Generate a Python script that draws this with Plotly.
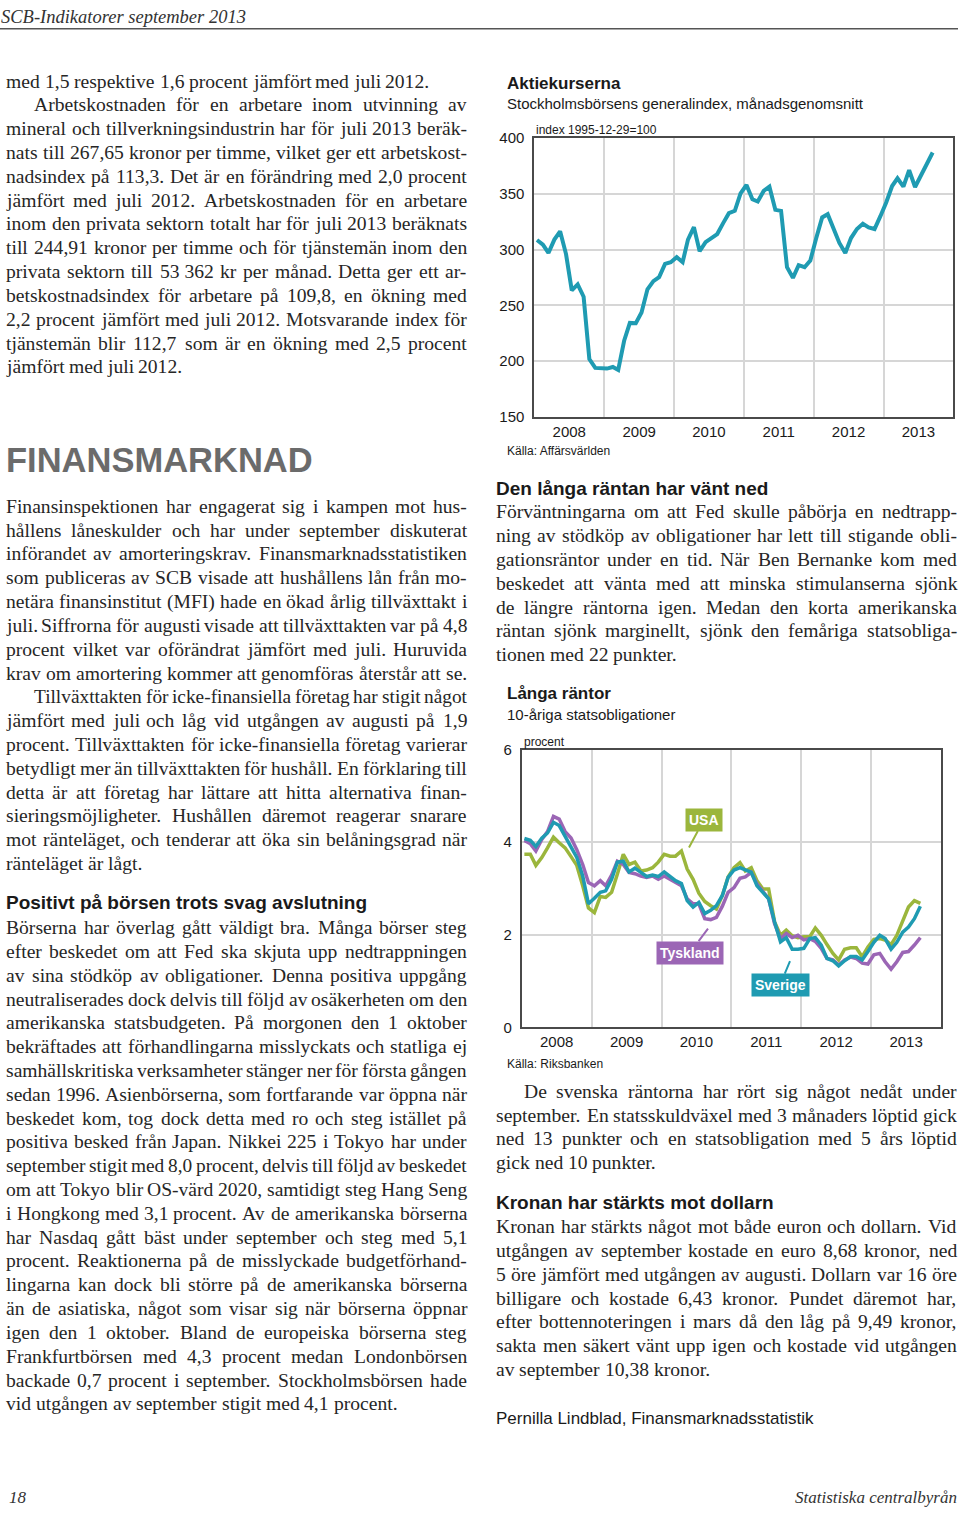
import plotly.graph_objects as go

W, H = 960, 1520

# ------------------------------------------------------------------ data
N_MONTHS = 69  # Jan 2008 .. Sep 2013
MONTHS = [f"{2008 + i // 12}-{i % 12 + 1:02d}-15" for i in range(N_MONTHS)]

AKTIE = [
    308.6, 304.5, 297.0, 309.0, 316.4, 296.0, 263.4, 268.8, 257.7, 201.8, 193.8, 193.5,
    193.2, 194.6, 192.0, 218.2, 234.2, 234.0, 243.5, 264.3, 271.7, 275.3, 287.2, 288.7,
    293.2, 288.7, 309.0, 320.2, 298.5, 306.8, 310.4, 314.0, 323.8, 332.7, 334.8, 350.5,
    358.0, 345.2, 343.2, 352.7, 356.5, 335.7, 334.8, 284.2, 274.7, 286.0, 284.2, 290.2,
    310.4, 328.9, 331.8, 319.3, 306.0, 297.0, 310.4, 318.5, 323.2, 320.0, 318.5, 329.8,
    342.3, 357.1, 364.0, 356.5, 371.4, 356.2, 366.4, 377.4, 387.2,
]

SVERIGE = [
    4.08, 4.04, 3.91, 4.09, 4.20, 4.43, 4.36, 4.13, 3.91, 3.67, 3.27, 2.67,
    2.79, 2.92, 2.95, 3.20, 3.57, 3.59, 3.36, 3.44, 3.35, 3.26, 3.29, 3.26,
    3.36, 3.26, 3.17, 3.11, 2.74, 2.60, 2.70, 2.46, 2.53, 2.63, 2.85, 3.24,
    3.40, 3.45, 3.40, 3.35, 3.06, 2.92, 2.78, 2.28, 1.85, 1.94, 1.69, 1.69,
    1.71, 1.92, 1.94, 1.78, 1.49, 1.44, 1.33, 1.44, 1.53, 1.53, 1.46, 1.64,
    1.84, 1.99, 1.92, 1.69, 1.84, 2.06, 2.17, 2.35, 2.62,
]

TYSKLAND = [
    4.04, 3.97, 3.81, 4.06, 4.23, 4.56, 4.50, 4.23, 4.09, 3.84, 3.52, 3.13,
    3.06, 3.17, 3.06, 3.29, 3.59, 3.52, 3.35, 3.32, 3.27, 3.24, 3.27, 3.20,
    3.27, 3.20, 3.13, 3.06, 2.78, 2.67, 2.67, 2.35, 2.33, 2.38, 2.62, 2.92,
    3.02, 3.22, 3.25, 3.35, 3.10, 2.93, 2.78, 2.24, 1.92, 2.03, 1.94, 1.99,
    1.89, 1.92, 1.86, 1.71, 1.49, 1.46, 1.35, 1.46, 1.52, 1.49, 1.39, 1.37,
    1.57, 1.60, 1.42, 1.26, 1.42, 1.62, 1.64, 1.78, 1.94,
]

USA = [
    3.74, 3.74, 3.50, 3.67, 3.88, 4.11, 3.99, 3.88, 3.69, 3.50, 3.06, 2.58,
    2.48, 2.83, 2.81, 2.92, 3.31, 3.74, 3.52, 3.57, 3.38, 3.40, 3.45, 3.57,
    3.74, 3.70, 3.70, 3.81, 3.42, 3.20, 2.90, 2.72, 2.63, 2.56, 2.85, 3.25,
    3.45, 3.56, 3.38, 3.45, 3.17, 2.99, 2.99, 2.28, 1.99, 2.10, 1.98, 1.94,
    1.96, 1.96, 2.15, 1.99, 1.79, 1.60, 1.46, 1.69, 1.72, 1.72, 1.53, 1.74,
    1.90, 1.92, 1.89, 1.79, 1.99, 2.31, 2.60, 2.74, 2.68,
]

AKTIE_TICKS = [150, 200, 250, 300, 350, 400]
RANTA_TICKS = [0, 2, 4, 6]

# ------------------------------------------------------------------ page text
HEADER = "SCB-Indikatorer september 2013"

L_P0 = ["med 1,5 respektive 1,6 procent jämfört med juli 2012."]
L_P1 = [
    "Arbetskostnaden för en arbetare inom utvinning av",
    "mineral och tillverkningsindustrin har för juli 2013 beräk-",
    "nats till 267,65 kronor per timme, vilket ger ett arbetskost-",
    "nadsindex på 113,3. Det är en förändring med 2,0 procent",
    "jämfört med juli 2012. Arbetskostnaden för en arbetare",
    "inom den privata sektorn totalt har för juli 2013 beräknats",
    "till 244,91 kronor per timme och för tjänstemän inom den",
    "privata sektorn till 53\u00a0362 kr per månad. Detta ger ett ar-",
    "betskostnadsindex för arbetare på 109,8, en ökning med",
    "2,2 procent jämfört med juli 2012. Motsvarande index för",
    "tjänstemän blir 112,7 som är en ökning med 2,5 procent",
    "jämfört med juli 2012.",
]
SECTION = "FINANSMARKNAD"
F_P1 = [
    "Finansinspektionen har engagerat sig i kampen mot hus-",
    "hållens låneskulder och har under september diskuterat",
    "införandet av amorteringskrav. Finansmarknadsstatistiken",
    "som publiceras av SCB visade att hushållens lån från mo-",
    "netära finansinstitut (MFI) hade en ökad årlig tillväxttakt i",
    "juli. Siffrorna för augusti visade att tillväxttakten var på 4,8",
    "procent vilket var oförändrat jämfört med juli. Huruvida",
    "krav om amortering kommer att genomföras återstår att se.",
]
F_P2 = [
    "Tillväxttakten för icke-finansiella företag har stigit något",
    "jämfört med juli och låg vid utgången av augusti på 1,9",
    "procent. Tillväxttakten för icke-finansiella företag varierar",
    "betydligt mer än tillväxttakten för hushåll. En förklaring till",
    "detta är att företag har lättare att hitta alternativa finan-",
    "sieringsmöjligheter. Hushållen däremot reagerar snarare",
    "mot ränteläget, och tenderar att öka sin belåningsgrad när",
    "ränteläget är lågt.",
]
H_POS = "Positivt på börsen trots svag avslutning"
POS_P = [
    "Börserna har överlag gått väldigt bra. Många börser steg",
    "efter beskedet om att Fed ska skjuta upp nedtrappningen",
    "av sina stödköp av obligationer. Denna positiva uppgång",
    "neutraliserades dock delvis till följd av osäkerheten om den",
    "amerikanska statsbudgeten. På morgonen den 1 oktober",
    "bekräftades att förhandlingarna misslyckats och statliga ej",
    "samhällskritiska verksamheter stänger ner för första gången",
    "sedan 1996. Asienbörserna, som fortfarande var öppna när",
    "beskedet kom, tog dock detta med ro och steg istället på",
    "positiva besked från Japan. Nikkei 225 i Tokyo har under",
    "september stigit med 8,0 procent, delvis till följd av beskedet",
    "om att Tokyo blir OS-värd 2020, samtidigt steg Hang Seng",
    "i Hongkong med 3,1 procent. Av de amerikanska börserna",
    "har Nasdaq gått bäst under september och steg med 5,1",
    "procent. Reaktionerna på de misslyckade budgetförhand-",
    "lingarna kan dock bli större på de amerikanska börserna",
    "än de asiatiska, något som visar sig när börserna öppnar",
    "igen den 1 oktober. Bland de europeiska börserna steg",
    "Frankfurtbörsen med 4,3 procent medan Londonbörsen",
    "backade 0,7 procent i september. Stockholmsbörsen hade",
    "vid utgången av september stigit med 4,1 procent.",
]
C1_TITLE = "Aktiekurserna"
C1_SUB = "Stockholmsbörsens generalindex, månadsgenomsnitt"
C1_UNIT = "index 1995-12-29=100"
C1_SRC = "Källa: Affärsvärlden"

H_RANTA = "Den långa räntan har vänt ned"
R_P1 = [
    "Förväntningarna om att Fed skulle påbörja en nedtrapp-",
    "ning av stödköp av obligationer har lett till stigande obli-",
    "gationsräntor under en tid. När Ben Bernanke kom med",
    "beskedet att vänta med att minska stimulanserna sjönk",
    "de längre räntorna igen. Medan den korta amerikanska",
    "räntan sjönk marginellt, sjönk den femåriga statsobliga-",
    "tionen med 22 punkter.",
]
C2_TITLE = "Långa räntor"
C2_SUB = "10-åriga statsobligationer"
C2_UNIT = "procent"
C2_SRC = "Källa: Riksbanken"
R_P2 = [
    "De svenska räntorna har rört sig något nedåt under",
    "september. En statsskuldväxel med 3 månaders löptid gick",
    "ned 13 punkter och en statsobligation med 5 års löptid",
    "gick ned 10 punkter.",
]
H_KRONA = "Kronan har stärkts mot dollarn"
K_P = [
    "Kronan har stärkts något mot både euron och dollarn. Vid",
    "utgången av september kostade en euro 8,68 kronor, ned",
    "5 öre jämfört med utgången av augusti. Dollarn var 16 öre",
    "billigare och kostade 6,43 kronor. Pundet däremot har,",
    "efter bottennoteringen i mars då den låg på 9,49 kronor,",
    "sakta men säkert vänt upp igen och kostade vid utgången",
    "av september 10,38 kronor.",
]
AUTHOR = "Pernilla Lindblad, Finansmarknadsstatistik"
PAGE_NO = "18"
PUBLISHER = "Statistiska centralbyrån"

# ------------------------------------------------------------------ styling
SERIF = "Liberation Serif, Times New Roman, serif"
SANS = "Liberation Sans, Arial, sans-serif"
BODY = "#262626"
TEAL = "#1f9bb2"
PURPLE = "#9b66b5"
GREEN = "#9bb63c"
GRID = "#d6d6d6"
FRAME = "#4a4a4a"

# Times-compatible advance widths (1/1000 em) used to justify the text lines
TW = {' ': 250, '\u00a0': 250, ',': 250, '.': 250, '-': 333, '(': 333, ')': 333, ':': 278,
      ';': 278, '=': 564}
for c in "0123456789":
    TW[c] = 500
TW.update(dict(zip("ABCDEFGHIJKLMNOPQRSTUVWXYZ",
                   [722, 667, 667, 722, 611, 556, 722, 722, 333, 389, 722, 611, 889, 722, 722,
                    556, 722, 667, 556, 611, 722, 722, 944, 722, 722, 611])))
TW.update(dict(zip("abcdefghijklmnopqrstuvwxyz",
                   [444, 500, 444, 500, 444, 333, 500, 500, 278, 278, 500, 278, 778, 500, 500,
                    500, 500, 333, 389, 278, 500, 500, 722, 500, 500, 444])))
TW.update({'å': 444, 'ä': 444, 'ö': 500, 'é': 444, 'Å': 722, 'Ä': 722, 'Ö': 722})


def px(x):
    return x / W


def py(y):
    return 1 - y / H


annotations = []


def text(s, x, y, size, family=SANS, color=BODY, weight="normal", style="normal",
         xanchor="left"):
    annotations.append(dict(
        text=s, x=px(x), y=py(y), xref="paper", yref="paper", xanchor=xanchor,
        yanchor="middle", showarrow=False, borderpad=0,
        font=dict(size=size, family=family, color=color, weight=weight, style=style)))


def em(w):
    return sum(TW.get(c, 500) for c in w) / 1000.0


def block(lines, x0, x1, y0, indent=0, size=19.6, step=24.08, min_gap=3.6):
    for k, line in enumerate(lines):
        y = y0 + k * step
        xs = x0 + (indent if k == 0 else 0)
        words = line.split(" ")
        ems = [em(w) for w in words]
        n = len(words)
        fs = size
        if n > 1 and sum(ems) * fs + min_gap * (n - 1) > (x1 - xs):
            fs = (x1 - xs - min_gap * (n - 1)) / sum(ems)
        widths = [e * fs for e in ems]
        nat = 0.25 * fs
        if n > 1:
            fill = (x1 - xs - sum(widths)) / (n - 1)
            gap = min(nat, fill) if k == len(lines) - 1 else fill
        else:
            gap = 0
        x = xs
        for w, wd in zip(words, widths):
            text(w, x, y, fs, SERIF, BODY)
            x += wd + gap


# ------------------------------------------------------------------ figure
fig = go.Figure()

fig.add_trace(go.Scatter(x=MONTHS, y=AKTIE, mode="lines", xaxis="x", yaxis="y",
                         line=dict(color=TEAL, width=4), hoverinfo="skip"))
fig.add_trace(go.Scatter(x=MONTHS, y=USA, mode="lines", xaxis="x2", yaxis="y2",
                         line=dict(color=GREEN, width=3.5), hoverinfo="skip"))
fig.add_trace(go.Scatter(x=MONTHS, y=TYSKLAND, mode="lines", xaxis="x2", yaxis="y2",
                         line=dict(color=PURPLE, width=3.5), hoverinfo="skip"))
fig.add_trace(go.Scatter(x=MONTHS, y=SVERIGE, mode="lines", xaxis="x2", yaxis="y2",
                         line=dict(color=TEAL, width=3.5), hoverinfo="skip"))

xcommon = dict(type="date", range=["2008-01-01", "2014-01-01"], dtick="M12",
               tick0="2008-01-01", ticklabelmode="period", tickformat="%Y",
               showgrid=True, gridcolor=GRID, gridwidth=1.5, ticks="",
               showline=True, mirror=True, linecolor=FRAME, linewidth=1.8,
               tickfont=dict(family=SANS, size=15, color="#1a1a1a"), zeroline=False,
               fixedrange=True)
ycommon = dict(showgrid=True, gridcolor=GRID, gridwidth=1.5, ticks="",
               showline=True, mirror=True, linecolor=FRAME, linewidth=1.8,
               tickfont=dict(family=SANS, size=15, color="#1a1a1a"), zeroline=False,
               ticklabelstandoff=5, fixedrange=True)

fig.update_layout(
    width=W, height=H, margin=dict(l=0, r=0, t=0, b=0),
    paper_bgcolor="white", plot_bgcolor="white", showlegend=False, hovermode=False,
    xaxis=dict(domain=[px(534.3), px(953.3)], anchor="y", **xcommon),
    yaxis=dict(domain=[py(412.3), py(130.7)], anchor="x", range=[150, 400],
               tickvals=AKTIE_TICKS, **ycommon),
    xaxis2=dict(domain=[px(521.7), px(941)], anchor="y2", **xcommon),
    yaxis2=dict(domain=[py(1030), py(749)], anchor="x2", range=[0, 6],
                tickvals=RANTA_TICKS, **ycommon),
)

# header and rule
text(HEADER, 0, 8, 18.5, SERIF, "#333333", style="italic")
fig.add_shape(type="line", xref="paper", yref="paper", x0=0, x1=px(958), y0=py(20), y1=py(20),
              line=dict(color="#555555", width=1.4))

# left column
block(L_P0, 5, 466, 73)
block(L_P1, 5, 466, 97, indent=28)
text(SECTION, 5, 456, 34.5, SANS, "#6b6b6b", weight="bold")
block(F_P1, 5, 466, 503)
block(F_P2, 5, 466, 695.6, indent=28)
text(H_POS, 5, 904, 19, SANS, "#1a1a1a", weight="bold")
block(POS_P, 5, 466, 929)

# right column: chart 1 texts
text(C1_TITLE, 506, 75, 17, SANS, "#1a1a1a", weight="bold")
text(C1_SUB, 506, 96, 15, SANS, "#1a1a1a")
text(C1_UNIT, 535, 122, 12, SANS, "#1a1a1a")
text(C1_SRC, 506, 447, 12, SANS, "#1a1a1a")

text(H_RANTA, 495, 485, 19, SANS, "#1a1a1a", weight="bold")
block(R_P1, 495, 956, 508.5)

# chart 2 texts
text(C2_TITLE, 506, 692, 17, SANS, "#1a1a1a", weight="bold")
text(C2_SUB, 506, 713, 15, SANS, "#1a1a1a")
text(C2_UNIT, 523, 741, 12, SANS, "#1a1a1a")
text(C2_SRC, 506, 1067, 12, SANS, "#1a1a1a")

# series callouts
for label, col, tip, box in [("USA", GREEN, (689, 848), (704, 820)),
                             ("Tyskland", PURPLE, (708, 930), (690, 954)),
                             ("Sverige", TEAL, (790, 963), (780, 987))]:
    annotations.append(dict(
        text=label, x=px(tip[0]), y=py(tip[1]), xref="paper", yref="paper",
        showarrow=True, arrowhead=0, arrowwidth=2, arrowcolor=col,
        ax=box[0] - tip[0], ay=box[1] - tip[1], bgcolor=col, borderpad=3,
        font=dict(family=SANS, size=14, color="white", weight="bold")))

block(R_P2, 495, 956, 1094.5, indent=28)
text(H_KRONA, 495, 1207, 19, SANS, "#1a1a1a", weight="bold")
block(K_P, 495, 956, 1231.5)
text(AUTHOR, 495, 1425, 17, SANS, "#1a1a1a")

# footer
text(PAGE_NO, 8, 1505, 17, SERIF, "#333333", style="italic")
text(PUBLISHER, 958, 1505, 17, SERIF, "#333333", style="italic", xanchor="right")

fig.update_layout(annotations=annotations)
fig.write_html(
    "out.html",
    config={"displayModeBar": False},
    post_script="document.body.style.margin='0';document.body.style.overflow='hidden';",
)
